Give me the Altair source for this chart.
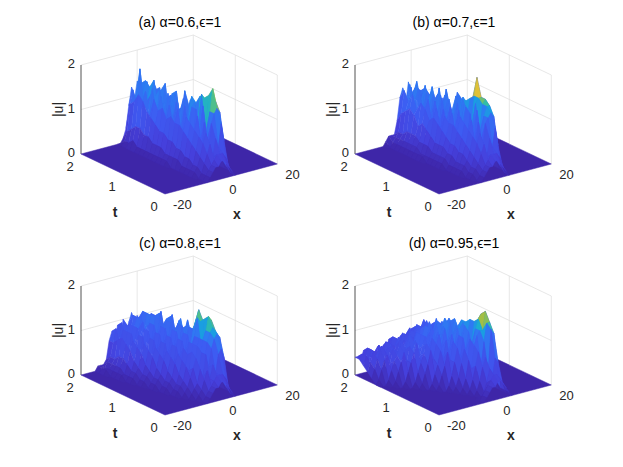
import altair as alt
import numpy as np
import pandas as pd

# grid of the surfaces (x along columns, t along rows)
X_GRID = list(range(-20, 21))
T_GRID = [0.0, 0.1, 0.2, 0.3, 0.4, 0.5, 0.6, 0.7, 0.8, 0.9, 1.0,
          1.1, 1.2, 1.3, 1.4, 1.5, 1.6, 1.7, 1.8, 1.9, 2.0]

# |u|, in tenths; each row starts at x = X0, the rest is 0
A_X0 = -8
A_ROWS = [
    [0, 0, 0, 0, 1, 2, 3, 3, 4, 4, 3, 2, 1, 0, 0],
    [0, 0, 0, 0, 1, 2, 3, 4, 5, 5, 5, 4, 2, 0, 0],
    [0, 0, 0, 0, 1, 3, 5, 7, 4, 8, 6, 11, 7, 1, 0],
    [0, 0, 0, 1, 2, 4, 7, 9, 5, 11, 13, 14, 13, 2, 0],
    [0, 0, 0, 1, 2, 5, 8, 5, 11, 7, 13, 18, 15, 2, 0],
    [0, 0, 0, 1, 3, 6, 9, 12, 6, 14, 8, 16, 15, 3, 0],
    [0, 0, 0, 1, 3, 7, 10, 6, 13, 7, 16, 15, 14, 2, 0],
    [0, 0, 0, 2, 4, 8, 11, 7, 13, 14, 8, 15, 14, 2, 0],
    [0, 0, 0, 2, 4, 9, 6, 13, 8, 14, 10, 13, 12, 3, 0],
    [0, 0, 1, 2, 5, 9, 12, 7, 14, 8, 12, 14, 12, 2, 0],
    [0, 0, 1, 2, 5, 10, 7, 13, 10, 7, 15, 9, 12, 2, 0],
    [0, 0, 1, 3, 6, 9, 12, 8, 14, 12, 7, 12, 9, 2, 0],
    [0, 0, 1, 3, 6, 11, 8, 14, 9, 13, 14, 8, 10, 2, 0],
    [0, 0, 1, 3, 7, 10, 13, 9, 12, 7, 13, 11, 9, 2, 0],
    [0, 0, 1, 4, 8, 12, 8, 14, 10, 15, 9, 12, 8, 2, 0],
    [0, 0, 1, 4, 9, 8, 14, 12, 8, 13, 10, 11, 7, 2, 0],
    [0, 0, 1, 5, 11, 13, 9, 12, 15, 9, 13, 8, 10, 2, 0],
    [0, 0, 2, 5, 12, 9, 9, 10, 13, 8, 12, 11, 7, 1, 0],
    [0, 0, 1, 4, 10, 9, 17, 11, 14, 10, 9, 13, 8, 1, 0],
    [0, 0, 1, 3, 9, 12, 9, 9, 13, 9, 13, 8, 9, 1, 0],
    [0, 0, 0, 1, 3, 8, 12, 9, 13, 10, 12, 9, 8, 1, 0],
]

B_X0 = -10
B_ROWS = [
    [0, 0, 0, 0, 0, 0, 1, 2, 3, 3, 4, 4, 3, 2, 1, 0, 0],
    [0, 0, 0, 0, 0, 0, 1, 2, 3, 4, 5, 5, 5, 4, 2, 0, 0],
    [0, 0, 0, 0, 0, 1, 2, 3, 5, 7, 4, 8, 6, 10, 6, 1, 0],
    [0, 0, 0, 0, 0, 1, 2, 4, 7, 9, 5, 11, 12, 13, 12, 2, 0],
    [0, 0, 0, 0, 1, 2, 3, 5, 8, 5, 11, 7, 12, 14, 14, 2, 0],
    [0, 0, 0, 0, 1, 2, 4, 6, 9, 11, 6, 13, 8, 14, 15, 3, 0],
    [0, 0, 0, 0, 1, 2, 4, 7, 10, 6, 12, 8, 14, 15, 15, 3, 0],
    [0, 0, 0, 0, 1, 3, 5, 8, 11, 7, 13, 12, 8, 15, 19, 3, 0],
    [0, 0, 0, 1, 2, 3, 5, 9, 6, 12, 8, 13, 10, 14, 14, 2, 0],
    [0, 0, 0, 1, 2, 4, 6, 9, 11, 7, 13, 8, 14, 13, 9, 2, 0],
    [0, 0, 0, 1, 2, 4, 7, 10, 6, 12, 9, 14, 9, 13, 8, 2, 0],
    [0, 0, 0, 1, 2, 4, 8, 7, 11, 8, 13, 10, 8, 14, 9, 2, 0],
    [0, 0, 1, 1, 3, 5, 9, 11, 7, 13, 8, 12, 10, 8, 10, 2, 0],
    [0, 0, 1, 1, 3, 6, 8, 7, 12, 9, 13, 8, 14, 10, 8, 2, 0],
    [0, 0, 1, 2, 3, 7, 10, 12, 8, 13, 10, 14, 8, 12, 9, 2, 0],
    [0, 0, 1, 2, 4, 6, 11, 8, 13, 10, 14, 8, 12, 9, 7, 2, 0],
    [0, 0, 1, 2, 4, 8, 9, 13, 8, 14, 10, 12, 10, 8, 9, 1, 0],
    [0, 0, 1, 2, 4, 9, 12, 8, 13, 10, 12, 8, 11, 9, 7, 1, 0],
    [0, 0, 1, 2, 3, 8, 10, 13, 9, 14, 8, 11, 12, 8, 8, 1, 0],
    [0, 0, 1, 2, 3, 7, 12, 9, 13, 10, 12, 9, 11, 10, 7, 1, 0],
    [0, 1, 2, 2, 2, 5, 10, 12, 8, 13, 10, 9, 11, 8, 8, 1, 0],
]

C_X0 = -15
C_ROWS = [
    [0] * 11 + [1, 2, 3, 3, 4, 4, 3, 2, 1] + [0, 0],
    [0] * 11 + [1, 2, 3, 4, 5, 5, 5, 4, 2] + [0, 0],
    [0] * 10 + [1, 2, 4, 6, 4, 7, 5, 9, 10, 8] + [1, 0],
    [0] * 9 + [1, 2, 3, 6, 4, 9, 6, 10, 12, 13, 12] + [2, 0],
    [0] * 8 + [1, 2, 4, 6, 8, 5, 9, 7, 11, 13, 14, 13] + [2, 0],
    [0] * 7 + [1, 2, 3, 6, 5, 9, 6, 10, 7, 11, 13, 16, 15] + [3, 0],
    [0] * 7 + [1, 2, 4, 7, 5, 8, 6, 10, 7, 11, 8, 15, 14] + [3, 0],
    [0] * 6 + [1, 2, 3, 6, 8, 5, 9, 6, 10, 7, 11, 15, 14, 14] + [3, 0],
    [0] * 6 + [1, 2, 4, 7, 5, 9, 6, 10, 7, 11, 8, 12, 14, 16] + [3, 0],
    [0] * 5 + [1, 2, 3, 6, 8, 5, 9, 6, 10, 7, 11, 8, 12, 9, 12] + [2, 0],
    [0] * 5 + [1, 2, 4, 7, 5, 9, 6, 10, 7, 11, 8, 12, 9, 13, 10] + [2, 0],
    [0] * 4 + [1, 2, 3, 6, 8, 5, 9, 6, 10, 7, 11, 8, 12, 13, 9, 11] + [2, 0],
    [0] * 4 + [1, 2, 4, 7, 5, 9, 6, 10, 7, 11, 8, 12, 9, 8, 12, 10] + [2, 0],
    [0] * 3 + [1, 2, 3, 6, 8, 5, 9, 6, 10, 7, 11, 8, 12, 9, 13, 9, 10] + [2, 0],
    [0] * 3 + [1, 2, 4, 7, 5, 9, 6, 10, 7, 11, 8, 12, 9, 8, 11, 12, 9] + [2, 0],
    [0] * 2 + [1, 1, 3, 6, 8, 5, 9, 6, 10, 7, 11, 8, 12, 9, 13, 9, 11, 9] + [2, 0],
    [0] * 2 + [1, 2, 4, 7, 5, 9, 6, 10, 7, 11, 8, 10, 12, 8, 10, 12, 9, 8] + [1, 0],
    [0] * 2 + [1, 2, 4, 8, 5, 9, 6, 10, 7, 9, 11, 8, 12, 9, 8, 11, 9, 8] + [1, 0],
    [0] * 1 + [1, 1, 2, 3, 7, 5, 9, 6, 10, 7, 9, 11, 8, 12, 9, 8, 11, 8, 8] + [1, 0],
    [0] * 1 + [1, 1, 2, 3, 6, 9, 5, 10, 7, 9, 6, 11, 8, 10, 8, 11, 9, 8, 7] + [1, 0],
    [0] * 1 + [1, 1, 1, 2, 6, 8, 5, 9, 6, 10, 7, 9, 11, 8, 10, 9, 8, 8, 7] + [1, 0],
]

D_X0 = -20
D_ROWS = [
    [0] * 17 + [1, 2, 3, 3, 4, 4, 3, 2] + [1, 0],
    [0] * 17 + [1, 2, 3, 4, 5, 5, 4, 3] + [1, 0],
    [0] * 19 + [1, 3, 6, 4, 8, 7] + [1, 0],
    [0] * 18 + [1, 3, 6, 8, 5, 14, 13] + [2, 0],
    [0] * 17 + [1, 3, 6, 9, 6, 11, 15, 15] + [2, 0],
    [0] * 16 + [1, 3, 7, 5, 10, 12, 13, 13, 17] + [3, 0],
    [0] * 15 + [1, 3, 6, 9, 6, 11, 8, 13, 15, 16] + [3, 0],
    [0] * 14 + [1, 3, 6, 9, 6, 11, 8, 12, 9, 14, 14] + [3, 0],
    [0] * 12 + [1, 3, 5, 8, 6, 10, 7, 11, 9, 13, 10, 14, 13] + [2, 0],
    [0] * 11 + [1, 3, 5, 8, 6, 10, 7, 11, 8, 12, 9, 13, 13, 12] + [2, 0],
    [0] * 9 + [1, 3, 5, 8, 6, 9, 11, 8, 12, 9, 13, 10, 12, 11, 13, 10] + [2, 0],
    [0] * 8 + [1, 3, 5, 7, 9, 6, 10, 8, 11, 9, 12, 10, 12, 9, 13, 11, 10] + [2, 0],
    [0] * 6 + [1, 3, 5, 7, 9, 6, 8, 10, 7, 11, 8, 12, 9, 11, 13, 9, 12, 11, 9] + [2, 0],
    [0] * 4 + [1, 3, 5, 7, 5, 8, 6, 9, 7, 10, 8, 9, 11, 8, 10, 12, 9, 11, 10, 12, 9] + [2, 0],
    [0] * 3 + [1, 3, 5, 6, 8, 5, 7, 9, 6, 8, 10, 7, 9, 11, 8, 10, 9, 12, 9, 11, 10, 8] + [2, 0],
    [0] * 1 + [1, 3, 5, 6, 4, 7, 5, 6, 8, 5, 7, 9, 6, 8, 7, 10, 8, 9, 11, 8, 10, 9, 10, 8] + [1, 0],
    [1, 3, 5, 7, 4, 6, 5, 7, 6, 5, 8, 6, 7, 5, 8, 7, 9, 6, 8, 7, 10, 8, 9, 10, 7] + [1, 0],
    [2, 4, 6, 5, 4, 7, 5, 6, 7, 4, 6, 8, 5, 7, 6, 8, 6, 8, 7, 9, 7, 10, 8, 9, 8] + [1, 0],
    [3, 5, 4, 6, 4, 5, 6, 4, 7, 5, 6, 5, 7, 5, 8, 6, 7, 8, 6, 9, 7, 8, 9, 7, 8] + [1, 0],
    [4, 5, 3, 6, 4, 5, 4, 6, 5, 4, 6, 5, 7, 5, 6, 5, 7, 5, 8, 6, 8, 6, 7, 9, 7] + [1, 0],
    [4, 4, 3, 5, 4, 5, 3, 4, 5, 3, 5, 4, 6, 4, 5, 4, 6, 5, 6, 5, 7, 5, 7, 6, 7] + [1, 0],
]

TITLES = ["(a) \u03b1=0.6,\u03f5=1", "(b) \u03b1=0.7,\u03f5=1",
          "(c) \u03b1=0.8,\u03f5=1", "(d) \u03b1=0.95,\u03f5=1"]
Z_TICKS = [0, 1, 2]
T_TICKS = [0, 1, 2]
X_TICKS = [-20, 0, 20]

# layout: page position of the back-left floor corner of each panel
PANELS = [
    (TITLES[0], A_X0, A_ROWS, 81.0, 154.0),
    (TITLES[1], B_X0, B_ROWS, 355.0, 154.0),
    (TITLES[2], C_X0, C_ROWS, 81.0, 375.0),
    (TITLES[3], D_X0, D_ROWS, 355.0, 375.0),
]

PARULA_DOMAIN = [0.0, 0.4, 0.9, 1.2, 1.33, 1.43, 1.52, 1.62, 1.75]
PARULA_RANGE = ["#3e26a8", "#4540dc", "#3d5cf2", "#2d7df2", "#14a8dc",
                "#35bfa2", "#9fbf45", "#efc232", "#f9fb15"]


def px(xf, tf):
    return f"datum.ox + 2.8075*(datum.{xf} + 20) + 42*(2 - datum.{tf})"


def py(xf, tf, zf):
    return (f"datum.oy - 0.75*(datum.{xf} + 20) + 20*(2 - datum.{tf})"
            f" - 44.5*datum.{zf}")


quad_rows, floor_rows, seg_rows, axis_rows = [], [], [], []
ztick_rows, ttick_rows, xtick_rows, lab_rows, title_rows = [], [], [], [], []
rank = 0
nx, nt = len(X_GRID), len(T_GRID)
for p, (title, x0, rows, ox, oy) in enumerate(PANELS):
    Z = np.zeros((nt, nx))
    for j, r in enumerate(rows):
        for k, v in enumerate(r):
            Z[j, x0 + 20 + k] = v / 10.0
    # painter's order: far rows (large t) first, far columns (large x) first
    for j in range(nt - 2, -1, -1):
        for i in range(nx - 2, -1, -1):
            corners = [(i, j), (i + 1, j), (i + 1, j + 1), (i, j + 1)]
            zs = [Z[jj, ii] for ii, jj in corners]
            if max(zs) == 0:
                continue
            c = sum(zs) / 4.0
            for vi, ((ii, jj), zv) in enumerate(zip(corners, zs)):
                quad_rows.append(dict(cid=rank, vi=vi, x=X_GRID[ii], t=T_GRID[jj],
                                      z=zv, c=c, ox=ox, oy=oy))
            rank += 1
    for vi, (fx, ft) in enumerate([(X_GRID[0], T_GRID[-1]), (X_GRID[-1], T_GRID[-1]),
                                   (X_GRID[-1], T_GRID[0]), (X_GRID[0], T_GRID[0])]):
        floor_rows.append(dict(pid=p, vi=vi, x=fx, t=ft, z=0.0, ox=ox, oy=oy))
    zmax = Z_TICKS[-1]
    for zt in Z_TICKS[1:]:
        seg_rows.append(dict(x1=-20, t1=2, z1=zt, x2=20, t2=2, z2=zt, ox=ox, oy=oy))
        seg_rows.append(dict(x1=20, t1=2, z1=zt, x2=20, t2=0, z2=zt, ox=ox, oy=oy))
    for xt in X_TICKS[1:]:
        seg_rows.append(dict(x1=xt, t1=2, z1=0, x2=xt, t2=2, z2=zmax, ox=ox, oy=oy))
    for tt in T_TICKS[:-1]:
        seg_rows.append(dict(x1=20, t1=tt, z1=0, x2=20, t2=tt, z2=zmax, ox=ox, oy=oy))
    axis_rows.append(dict(x1=-20, t1=2, z1=0, x2=-20, t2=2, z2=zmax, ox=ox, oy=oy))
    for zt in Z_TICKS:
        ztick_rows.append(dict(x=-20, t=2, z=zt, label=str(zt), ox=ox, oy=oy))
    for tt in T_TICKS:
        ttick_rows.append(dict(x=-20, t=tt, z=0, label=str(tt), ox=ox, oy=oy))
    for xt in X_TICKS:
        xtick_rows.append(dict(x=xt, t=0, z=0, label=str(xt), ox=ox, oy=oy))
    lab_rows.append(dict(ox=ox, oy=oy))
    title_rows.append(dict(title=title, ox=ox, oy=oy))

quads = pd.DataFrame(quad_rows)
floors = pd.DataFrame(floor_rows)
segs = pd.DataFrame(seg_rows)
axes = pd.DataFrame(axis_rows)

XS = alt.Scale(domain=[8, 615], zero=False, nice=False)
YS = alt.Scale(domain=[8, 459], zero=False, nice=False, reverse=True)
CS = alt.Scale(domain=PARULA_DOMAIN, range=PARULA_RANGE, clamp=True, interpolate="rgb")
FONT = "Liberation Sans"


def pos(xf="sx", yf="sy"):
    return dict(x=alt.X(f"{xf}:Q", scale=XS, axis=None),
                y=alt.Y(f"{yf}:Q", scale=YS, axis=None))


grid = alt.Chart(segs).transform_calculate(
    sx1=px("x1", "t1"), sy1=py("x1", "t1", "z1"),
    sx2=px("x2", "t2"), sy2=py("x2", "t2", "z2"),
).mark_rule(color="#dcdcdc", strokeWidth=0.7).encode(
    **pos("sx1", "sy1"), x2="sx2:Q", y2="sy2:Q")

zaxis = alt.Chart(axes).transform_calculate(
    sx1=px("x1", "t1"), sy1=py("x1", "t1", "z1"),
    sx2=px("x2", "t2"), sy2=py("x2", "t2", "z2"),
).mark_rule(color="#262626", strokeWidth=0.8).encode(
    **pos("sx1", "sy1"), x2="sx2:Q", y2="sy2:Q")

floor = alt.Chart(floors).transform_calculate(
    sx=px("x", "t"), sy=py("x", "t", "z"),
).mark_line(interpolate="linear-closed", fill="#3e26a8", stroke="#3e26a8",
            strokeWidth=0.5).encode(
    **pos(), detail="pid:N", order="vi:Q")

surf = alt.Chart(quads).transform_calculate(
    sx=px("x", "t"), sy=py("x", "t", "z"),
).mark_line(interpolate="linear-closed", strokeWidth=0.5, strokeJoin="round").encode(
    **pos(), detail="cid:N", order="vi:Q",
    fill=alt.Fill("c:Q", scale=CS, legend=None),
    stroke=alt.Stroke("c:Q", scale=CS, legend=None))

ztxt = alt.Chart(pd.DataFrame(ztick_rows)).transform_calculate(
    sx=px("x", "t"), sy=py("x", "t", "z"),
).mark_text(align="right", baseline="middle", dx=-6, dy=-1, font=FONT, fontSize=13,
            color="#262626").encode(**pos(), text="label:N")

ttxt = alt.Chart(pd.DataFrame(ttick_rows)).transform_calculate(
    sx=px("x", "t"), sy=py("x", "t", "z"),
).mark_text(align="center", baseline="middle", dx=-11, dy=13, font=FONT, fontSize=13,
            color="#262626").encode(**pos(), text="label:N")

xtxt = alt.Chart(pd.DataFrame(xtick_rows)).transform_calculate(
    sx=px("x", "t"), sy=py("x", "t", "z"),
).mark_text(align="left", baseline="middle", dx=8, dy=11, font=FONT, fontSize=13,
            color="#262626").encode(**pos(), text="label:N")

labs = pd.DataFrame(lab_rows)
ulab = alt.Chart(labs).transform_calculate(
    sx="datum.ox - 22", sy="datum.oy - 44.5", label="'|u|'"
).mark_text(align="center", baseline="middle", angle=270, font=FONT, fontSize=14,
            color="#262626").encode(**pos(), text="label:N")

tlab = alt.Chart(labs).transform_calculate(
    sx="datum.ox + 34", sy="datum.oy + 59", label="'t'"
).mark_text(align="center", baseline="middle", font=FONT, fontSize=14,
            fontWeight="bold", color="#262626").encode(**pos(), text="label:N")

xlab = alt.Chart(labs).transform_calculate(
    sx="datum.ox + 156", sy="datum.oy + 61", label="'x'"
).mark_text(align="center", baseline="middle", font=FONT, fontSize=14,
            fontWeight="bold", color="#262626").encode(**pos(), text="label:N")

titles = alt.Chart(pd.DataFrame(title_rows)).transform_calculate(
    sx="datum.ox + 99", sy="datum.oy - 131"
).mark_text(align="center", baseline="middle", font=FONT, fontSize=14,
            color="#000000").encode(**pos(), text="title:N")

chart = alt.layer(grid, zaxis, floor, surf, ztxt, ttxt, xtxt, ulab, tlab, xlab, titles).properties(
    width=607, height=451, autosize=alt.AutoSizeParams(type="none"), padding=0,
    background="white",
).configure_view(strokeWidth=0)

chart.save("out.html", embed_options={"renderer": "svg", "actions": False})
